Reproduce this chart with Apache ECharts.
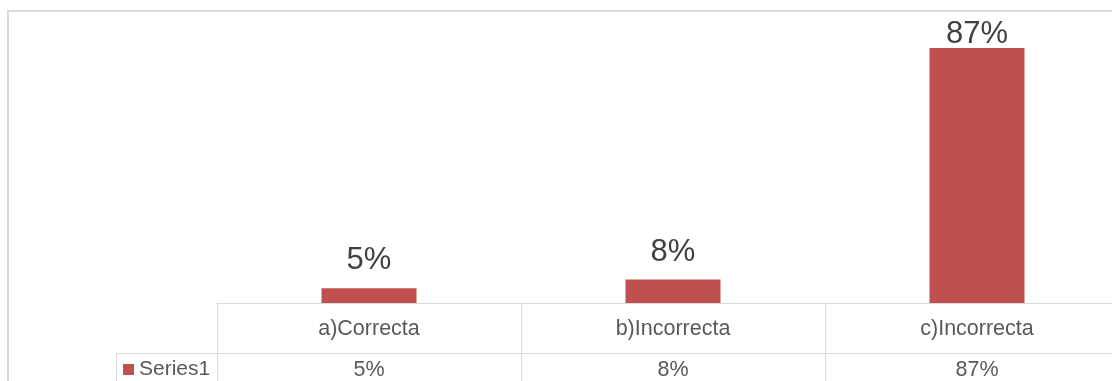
<!DOCTYPE html>
<html>
<head>
<meta charset="utf-8">
<script src="https://cdn.jsdelivr.net/npm/echarts@6/dist/echarts.min.js"></script>
<style>
  html, body { margin: 0; padding: 0; background: #fff; }
  #chart { width: 1112px; height: 381px; }
</style>
</head>
<body>
<div id="chart"></div>
<script>
// respuestas y porcentajes
var categories = ['a)Correcta', 'b)Incorrecta', 'c)Incorrecta'];
var values = [5, 8, 87];
var seriesName = 'Series1';

var valueLabels = values.map(function (v) { return v + '%'; });

var chart = echarts.init(document.getElementById('chart'));

var lineColor = '#d9d9d9';
var font = 'Liberation Sans, Arial, sans-serif';

var option = {
  backgroundColor: '#ffffff',
  animation: false,
  color: ['#c0504d'],
  textStyle: { fontFamily: font },
  grid: { left: 217, top: 10, width: 912, height: 293, outerBoundsMode: 'none', containLabel: false },
  legend: {
    data: [seriesName],
    left: 123,
    top: 359,
    padding: 0,
    icon: 'rect',
    itemWidth: 11,
    itemHeight: 11,
    itemGap: 5,
    textStyle: { fontSize: 21, color: '#595959', fontFamily: font }
  },
  xAxis: [{
    type: 'category',
    data: categories,
    position: 'bottom',
    axisLine: { lineStyle: { color: lineColor, width: 1 } },
    axisTick: { show: true, length: 78, alignWithLabel: false, lineStyle: { color: lineColor } },
    axisLabel: { fontSize: 21.5, color: '#595959', margin: 15, fontFamily: font }
  }, {
    type: 'category',
    data: valueLabels,
    position: 'bottom',
    offset: 50,
    axisLine: { show: true, lineStyle: { color: lineColor, width: 1 } },
    axisTick: { show: false },
    axisLabel: { fontSize: 21.5, color: '#595959', margin: 6, fontFamily: font }
  }],
  yAxis: { type: 'value', min: 0, max: 100, show: false },
  series: [{
    name: seriesName,
    type: 'bar',
    barWidth: 95,
    // excel empuja la etiqueta grande hacia dentro del area
    data: values.map(function (v) {
      return { value: v, label: { distance: v > 80 ? -2 : 12 } };
    }),
    label: {
      show: true,
      position: 'top',
      fontSize: 31,
      color: '#404040',
      fontFamily: font,
      formatter: '{c}%'
    }
  }],
  graphic: [
    { type: 'rect', shape: { x: 8, y: 11, width: 1200, height: 420 },
      style: { fill: 'none', stroke: lineColor, lineWidth: 2 }, silent: true },
    { type: 'line', shape: { x1: 116, y1: 353.5, x2: 217, y2: 353.5 },
      style: { stroke: lineColor, lineWidth: 1 } },
    { type: 'line', shape: { x1: 116.5, y1: 353, x2: 116.5, y2: 381 },
      style: { stroke: lineColor, lineWidth: 1 } }
  ]
};

chart.setOption(option);
</script>
</body>
</html>
